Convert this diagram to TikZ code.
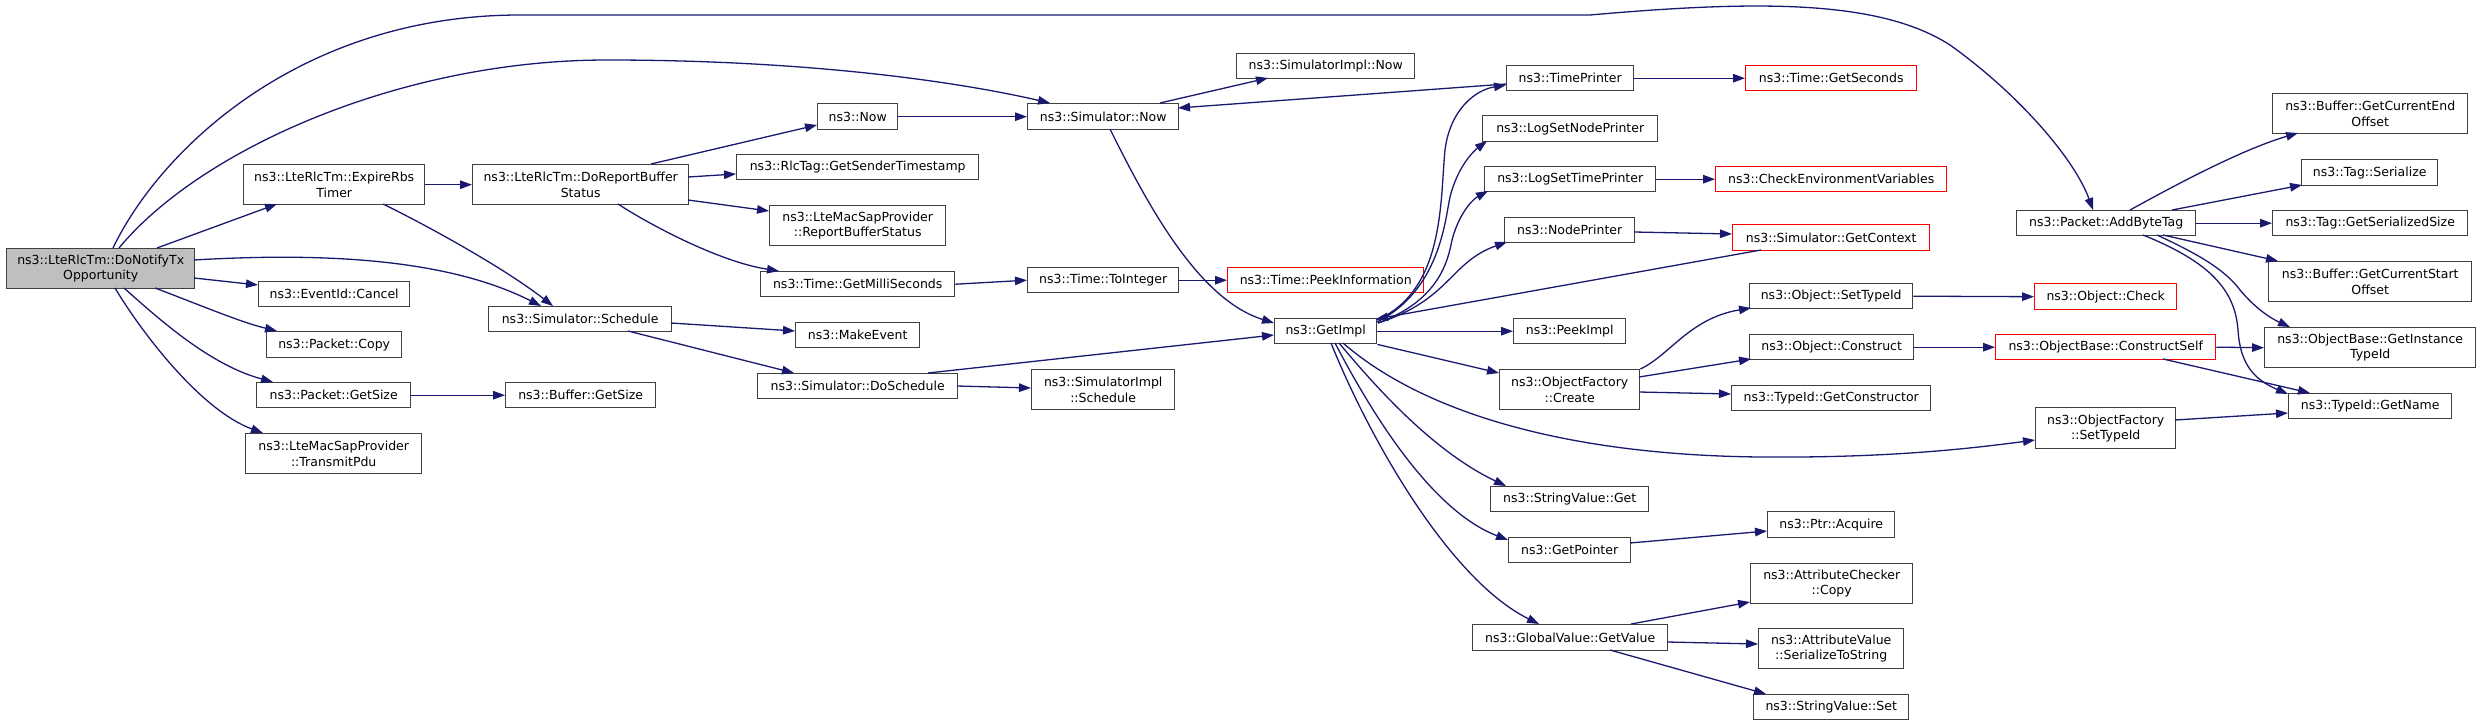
\documentclass[tikz,border=0pt]{standalone}
\usepackage{fontspec}
\setmainfont{DejaVu Sans}
\usetikzlibrary{arrows.meta}
\definecolor{edgeblue}{HTML}{191970}
\definecolor{boxline}{HTML}{404040}
\definecolor{boxred}{HTML}{FF0000}
\definecolor{rootfill}{HTML}{BFBFBF}
\tikzset{
 box/.style={draw=boxline, line width=1.4pt, fill=white, inner sep=0pt, align=center, font=\fontsize{12.5}{15.3}\selectfont},
 redbox/.style={draw=boxred},
 rootbox/.style={fill=rootfill},
 arr/.style={draw=edgeblue, line width=1.3pt, -{Triangle[length=12pt,width=8.5pt]}},
}
\newcommand{\mkbox}[7][]{\node[box,#1,anchor=north west,minimum width={(#5-#3)*1pt},minimum height={(#6-#4)*1pt}] (#2) at (#3,#4) {#7};}
\begin{document}
\begin{tikzpicture}[x=1pt,y=-1pt]
\fill[white] (0,0) rectangle (2480,725);
\useasboundingbox (0,0) rectangle (2480,725);
% rank 0
\mkbox[rootbox]{A}{6}{248}{194}{288}{ns3::LteRlcTm::DoNotifyTx\\Opportunity}
% rank 1
\mkbox{er}{243}{164}{424}{204}{ns3::LteRlcTm::ExpireRbs\\Timer}
\mkbox{can}{258}{281}{409}{306}{ns3::EventId::Cancel}
\mkbox{cpy}{266}{331}{401}{357}{ns3::Packet::Copy}
\mkbox{pgs}{256}{382}{410}{407}{ns3::Packet::GetSize}
\mkbox{tpdu}{245}{433}{421}{473}{ns3::LteMacSapProvider\\::TransmitPdu}
% rank 2
\mkbox{drbs}{472}{164}{688}{204}{ns3::LteRlcTm::DoReportBuffer\\Status}
\mkbox{sch}{488}{306}{671}{331}{ns3::Simulator::Schedule}
\mkbox{bgs}{505}{382}{655}{407}{ns3::Buffer::GetSize}
% rank 3
\mkbox{now}{817}{103}{897}{129}{ns3::Now}
\mkbox{rlc}{736}{154}{978}{179}{ns3::RlcTag::GetSenderTimestamp}
\mkbox{rbs}{769}{205}{945}{245}{ns3::LteMacSapProvider\\::ReportBufferStatus}
\mkbox{gms}{760}{271}{954}{296}{ns3::Time::GetMilliSeconds}
\mkbox{mke}{795}{322}{919}{347}{ns3::MakeEvent}
\mkbox{dsch}{757}{373}{957}{398}{ns3::Simulator::DoSchedule}
% rank 4
\mkbox{snow}{1027}{103}{1178}{129}{ns3::Simulator::Now}
\mkbox{toi}{1027}{267}{1178}{292}{ns3::Time::ToInteger}
\mkbox{sis}{1031}{369}{1174}{409}{ns3::SimulatorImpl\\::Schedule}
% rank 5
\mkbox{sinow}{1236}{53}{1414}{78}{ns3::SimulatorImpl::Now}
\mkbox[redbox]{peek}{1227}{267}{1423}{292}{ns3::Time::PeekInformation}
\mkbox{gi}{1274}{318}{1376}{343}{ns3::GetImpl}
% rank 6
\mkbox{tp}{1506}{65}{1633}{90}{ns3::TimePrinter}
\mkbox{lsnp}{1482}{115}{1657}{141}{ns3::LogSetNodePrinter}
\mkbox{lstp}{1484}{166}{1655}{191}{ns3::LogSetTimePrinter}
\mkbox{np}{1504}{217}{1634}{242}{ns3::NodePrinter}
\mkbox{pki}{1513}{318}{1625}{343}{ns3::PeekImpl}
\mkbox{ofc}{1499}{369}{1639}{409}{ns3::ObjectFactory\\::Create}
\mkbox{svg}{1490}{486}{1648}{511}{ns3::StringValue::Get}
\mkbox{gp}{1508}{537}{1630}{562}{ns3::GetPointer}
\mkbox{gv}{1472}{624}{1667}{650}{ns3::GlobalValue::GetValue}
% rank 7
\mkbox[redbox]{gsec}{1745}{65}{1916}{90}{ns3::Time::GetSeconds}
\mkbox[redbox]{cev}{1715}{166}{1946}{191}{ns3::CheckEnvironmentVariables}
\mkbox[redbox]{gctx}{1732}{224}{1929}{250}{ns3::Simulator::GetContext}
\mkbox{ost}{1749}{283}{1912}{308}{ns3::Object::SetTypeId}
\mkbox{ocon}{1749}{334}{1913}{359}{ns3::Object::Construct}
\mkbox{gcons}{1731}{385}{1930}{410}{ns3::TypeId::GetConstructor}
\mkbox{acq}{1767}{511}{1894}{537}{ns3::Ptr::Acquire}
\mkbox{acc}{1750}{563}{1912}{603}{ns3::AttributeChecker\\::Copy}
\mkbox{avs}{1758}{628}{1903}{668}{ns3::AttributeValue\\::SerializeToString}
\mkbox{svs}{1753}{694}{1908}{719}{ns3::StringValue::Set}
% rank 8
\mkbox{abt}{2016}{210}{2195}{235}{ns3::Packet::AddByteTag}
\mkbox[redbox]{och}{2034}{283}{2176}{309}{ns3::Object::Check}
\mkbox[redbox]{ocs}{1995}{334}{2215}{359}{ns3::ObjectBase::ConstructSelf}
\mkbox{ofst}{2035}{407}{2175}{448}{ns3::ObjectFactory\\::SetTypeId}
% rank 9
\mkbox{ceo}{2272}{93}{2467}{133}{ns3::Buffer::GetCurrentEnd\\Offset}
\mkbox{tser}{2301}{159}{2437}{185}{ns3::Tag::Serialize}
\mkbox{tgss}{2272}{210}{2467}{235}{ns3::Tag::GetSerializedSize}
\mkbox{cso}{2268}{261}{2471}{301}{ns3::Buffer::GetCurrentStart\\Offset}
\mkbox{gitid}{2264}{327}{2475}{367}{ns3::ObjectBase::GetInstance\\TypeId}
\mkbox{gname}{2288}{393}{2451}{418}{ns3::TypeId::GetName}
% edges from root
\draw[arr] ([shift={(107,0)}]A.north west) .. controls (160,150) and (300,15) .. (520,15) -- (1590,15) .. controls (1760,0) and (1880,0) .. (1950,45) .. controls (2020,95) and (2075,160) .. ([shift={(77,0)}]abt.north west);
\draw[arr] ([shift={(113,0)}]A.north west) .. controls (200,150) and (400,60) .. (607,60) .. controls (800,60) and (950,80) .. ([shift={(23,0)}]snow.north west);
\draw[arr] ([shift={(151,0)}]A.north west) -- ([shift={(34,40)}]er.north west);
\draw[arr] ([shift={(188,12)}]A.north west) .. controls (330,252) and (450,260) .. ([shift={(53,0)}]sch.north west);
\draw[arr] ([shift={(188,30)}]A.north west) -- ([shift={(0,4)}]can.north west);
\draw[arr] ([shift={(149,40)}]A.north west) .. controls (200,305) and (240,322) .. ([shift={(11,0)}]cpy.north west);
\draw[arr] ([shift={(118,40)}]A.north west) .. controls (160,320) and (210,365) .. ([shift={(17,0)}]pgs.north west);
\draw[arr] ([shift={(109,40)}]A.north west) .. controls (140,330) and (200,410) .. ([shift={(18,0)}]tpdu.north west);
% rank 1 edges
\draw[arr] ([shift={(140,40)}]er.north west) .. controls (420,222) and (500,265) .. ([shift={(65,0)}]sch.north west);
\draw[arr] (er.east) -- (drbs.west);
\draw[arr] (pgs.east) -- (bgs.west);
% rank 2 edges
\draw[arr] ([shift={(179,0)}]drbs.north west) -- ([shift={(0,22)}]now.north west);
\draw[arr] ([shift={(216,13)}]drbs.north west) -- ([shift={(0,20)}]rlc.north west);
\draw[arr] ([shift={(216,36)}]drbs.north west) -- ([shift={(0,6)}]rbs.north west);
\draw[arr] ([shift={(146,40)}]drbs.north west) .. controls (650,225) and (720,262) .. ([shift={(19,0)}]gms.north west);
\draw[arr] ([shift={(183,17)}]sch.north west) -- ([shift={(0,9)}]mke.north west);
\draw[arr] ([shift={(140,25)}]sch.north west) -- ([shift={(37,0)}]dsch.north west);
% rank 3 edges
\draw[arr] (now.east) -- (snow.west);
\draw[arr] (gms.east) -- (toi.west);
\draw[arr] ([shift={(171,0)}]dsch.north west) -- ([shift={(0,17)}]gi.north west);
\draw[arr] ([shift={(200,13)}]dsch.north west) -- ([shift={(0,19)}]sis.north west);
% rank 4 edges
\draw[arr] ([shift={(133,0)}]snow.north west) -- ([shift={(32,25)}]sinow.north west);
\draw[arr] ([shift={(83,26)}]snow.north west) .. controls (1150,210) and (1200,300) .. ([shift={(0,5)}]gi.north west);
\draw[arr] (toi.east) -- (peek.west);
\draw[arr] ([shift={(0,19)}]tp.north west) -- ([shift={(151,5)}]snow.north west);
% GetImpl edges
\draw[arr] ([shift={(103,2)}]gi.north west) .. controls (1445,290) and (1440,200) .. (1445,150) .. controls (1450,110) and (1475,90) .. ([shift={(0,20)}]tp.north west);
\draw[arr] ([shift={(103,4)}]gi.north west) .. controls (1440,290) and (1445,220) .. (1450,197) .. controls (1458,165) and (1475,150) .. ([shift={(5,26)}]lsnp.north west);
\draw[arr] ([shift={(104,5)}]gi.north west) .. controls (1440,300) and (1448,260) .. (1452,240) .. controls (1460,210) and (1475,198) .. ([shift={(4,25)}]lstp.north west);
\draw[arr] ([shift={(104,5)}]gi.north west) .. controls (1450,300) and (1450,262) .. ([shift={(3,25)}]np.north west);
\draw[arr] ([shift={(29,26)}]gctx.north west) -- ([shift={(102,1)}]gi.north west);
\draw[arr] (gi.east) -- (pki.west);
\draw[arr] (gi.south east) -- ([shift={(0,4)}]ofc.north west);
\draw[arr] ([shift={(69,25)}]gi.north west) .. controls (1420,410) and (1560,455) .. (1760,457) .. controls (1880,458) and (1960,450) .. ([shift={(0,33)}]ofst.north west);
\draw[arr] ([shift={(65,25)}]gi.north west) .. controls (1370,380) and (1430,450) .. ([shift={(16,0)}]svg.north west);
\draw[arr] ([shift={(61,25)}]gi.north west) .. controls (1370,410) and (1430,510) .. ([shift={(0,3)}]gp.north west);
\draw[arr] ([shift={(57,25)}]gi.north west) .. controls (1370,440) and (1450,580) .. ([shift={(67,0)}]gv.north west);
% rank 6 edges
\draw[arr] (tp.east) -- (gsec.west);
\draw[arr] (lstp.east) -- (cev.west);
\draw[arr] ([shift={(130,15)}]np.north west) -- ([shift={(0,10)}]gctx.north west);
\draw[arr] (ofc.north east) .. controls (1670,355) and (1690,318) .. ([shift={(2,25)}]ost.north west);
\draw[arr] ([shift={(140,8)}]ofc.north west) -- ([shift={(2,25)}]ocon.north west);
\draw[arr] ([shift={(140,23)}]ofc.north west) -- ([shift={(0,9)}]gcons.north west);
\draw[arr] ([shift={(122,6)}]gp.north west) -- ([shift={(0,20)}]acq.north west);
\draw[arr] ([shift={(159,0)}]gv.north west) -- ([shift={(0,39)}]acc.north west);
\draw[arr] ([shift={(195,18)}]gv.north west) -- ([shift={(0,16)}]avs.north west);
\draw[arr] ([shift={(138,26)}]gv.north west) -- ([shift={(13,0)}]svs.north west);
% rank 7/8 edges
\draw[arr] (ost.east) -- (och.west);
\draw[arr] (ocon.east) -- (ocs.west);
\draw[arr] (ocs.east) -- (gitid.west);
\draw[arr] ([shift={(168,25)}]ocs.north west) -- ([shift={(22,0)}]gname.north west);
\draw[arr] ([shift={(140,13)}]ofst.north west) -- ([shift={(0,20)}]gname.north west);
\draw[arr] ([shift={(114,0)}]abt.north west) .. controls (2170,188) and (2240,150) .. ([shift={(26,40)}]ceo.north west);
\draw[arr] ([shift={(156,0)}]abt.north west) -- ([shift={(1,26)}]tser.north west);
\draw[arr] (abt.east) -- (tgss.west);
\draw[arr] ([shift={(147,25)}]abt.north west) -- ([shift={(10,0)}]cso.north west);
\draw[arr] ([shift={(141,25)}]abt.north west) .. controls (2200,255) and (2225,270) .. (2240,290) .. controls (2255,308) and (2270,318) .. ([shift={(26,0)}]gitid.north west);
\draw[arr] ([shift={(127,25)}]abt.north west) .. controls (2210,262) and (2235,290) .. (2238,330) .. controls (2240,365) and (2255,380) .. ([shift={(0,1)}]gname.north west);
\end{tikzpicture}
\end{document}
